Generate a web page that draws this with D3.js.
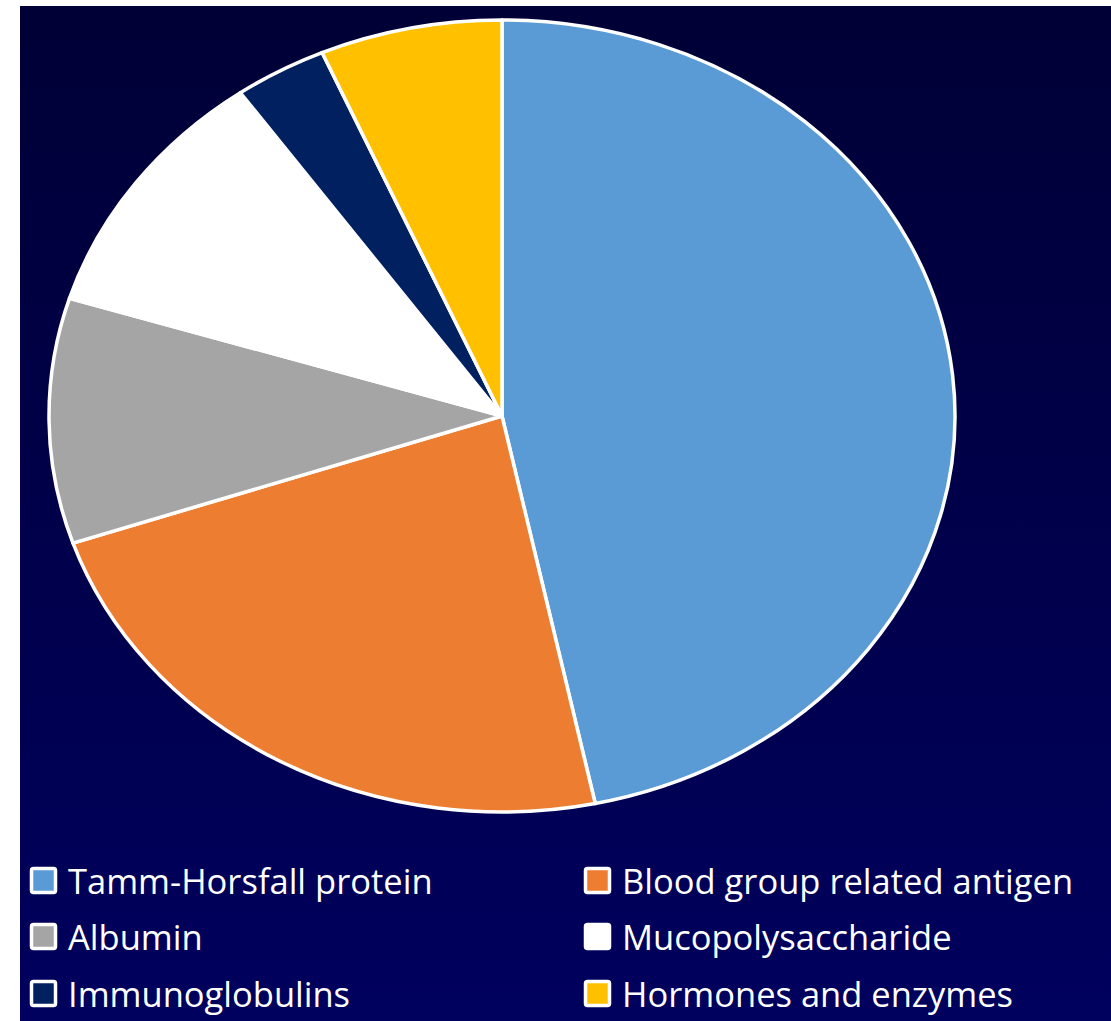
<!DOCTYPE html>
<html>
<head>
<meta charset="utf-8">
<title>Urine protein composition</title>
<script src="https://cdn.jsdelivr.net/npm/d3@7"></script>
<style>
  html, body { margin: 0; padding: 0; background: #fff; }
  svg { display: block; }
  .legend text { font-family: "Open Sans", sans-serif; fill: #fff; }
</style>
</head>
<body>
<script>
// values (percent)
var categories = ["Tamm-Horsfall protein", "Blood group related antigen", "Albumin",
  "Mucopolysaccharide", "Immunoglobulins", "Hormones and enzymes"];
var values = [46.7, 23.1, 10.0, 10.4, 3.3, 6.5];
var colors = ["#5b9bd5", "#ed7d31", "#a5a5a5", "#ffffff", "#002060", "#ffc000"];

var svg_width = 1111, svg_height = 1021;
var cx = 502, cy = 416, rx = 453, ry = 396;

var svg = d3.select("body").append("svg")
  .attr("width", svg_width)
  .attr("height", svg_height);

var grad = svg.append("defs").append("linearGradient")
  .attr("id", "bg").attr("x1", 0).attr("y1", 0).attr("x2", 0).attr("y2", 1);
grad.append("stop").attr("offset", "0%").attr("stop-color", "#000036");
grad.append("stop").attr("offset", "100%").attr("stop-color", "#00005e");

svg.append("rect")
  .attr("x", 20).attr("y", 6)
  .attr("width", svg_width - 20).attr("height", svg_height - 6)
  .attr("fill", "url(#bg)");

var pie = d3.pie().sort(null).value(function(d) { return d; });
var arc = d3.arc().innerRadius(0).outerRadius(ry);

// the pie is stretched sideways into an ellipse
var g = svg.append("g")
  .attr("transform", "translate(" + cx + "," + cy + ") scale(" + (rx / ry) + ",1)");

g.selectAll("path")
  .data(pie(values))
  .enter()
  .append("path")
  .attr("d", arc)
  .attr("fill", function(d, i) { return colors[i]; })
  .attr("stroke", "#fff")
  .attr("stroke-width", 3.5)
  .attr("stroke-linejoin", "round")
  .attr("vector-effect", "non-scaling-stroke");

// legend, two columns
var colX = [30, 584], rowY = [867, 923, 980];
var legend = svg.append("g").attr("class", "legend");
var item = legend.selectAll("g")
  .data(categories)
  .enter()
  .append("g")
  .attr("transform", function(d, i) {
    return "translate(" + colX[i % 2] + "," + rowY[Math.floor(i / 2)] + ")";
  });
item.append("rect")
  .attr("x", 1.5).attr("y", 1.5)
  .attr("width", 24).attr("height", 24)
  .attr("rx", 2)
  .attr("fill", function(d, i) { return colors[i]; })
  .attr("stroke", "#fff")
  .attr("stroke-width", 3.5);
item.append("text")
  .attr("x", 38)
  .attr("y", 27)
  .attr("font-size", 34.5)
  .text(function(d) { return d; });
</script>
</body>
</html>
